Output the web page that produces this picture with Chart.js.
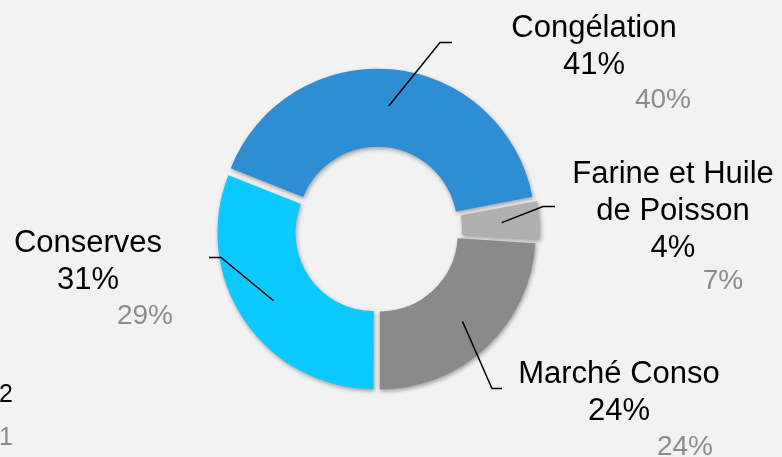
<!DOCTYPE html>
<html>
<head>
<meta charset="utf-8">
<script src="https://cdn.jsdelivr.net/npm/chart.js@4/dist/chart.umd.min.js"></script>
<style>
    html, body { margin: 0; padding: 0; background: #f2f2f2; }
    #wrap { width: 782px; height: 457px; position: relative; }
</style>
</head>
<body>
<div id="wrap"><canvas id="donutChart" width="782" height="457"></canvas></div>
<script>
// Data (clockwise from 6 o'clock)
const CATEGORIES = ['Conserves', 'Congélation', 'Farine et Huile\nde Poisson', 'Marché Conso'];
const SHARE_CURRENT = [31, 41, 4, 24];
const SHARE_PREVIOUS = [29, 40, 7, 24];
const COLORS = ['#0bc8fe', '#2e8ed4', '#b0b0b0', '#8a8a8a'];

// Label layout, relative to donut centre (text centre x, first baseline y, grey % offset, leader elbow)
const LABEL_LAYOUT = [
    { tx: -289, ty: 21, gx: 57, gy: 35, ex: -156, ey: 27, end: -12 },
    { tx: 217, ty: -194, gx: 69, gy: 34, ex: 63, ey: -188, end: 12 },
    { tx: 296, ty: -48, gx: 50, gy: 32, ex: 166, ey: -24, end: 12 },
    { tx: 242, ty: 152, gx: 66, gy: 35, ex: 115, ey: 158, end: 10 }
];

const FONT = "'Liberation Sans', Arial, sans-serif";

const shadowPlugin = {
    id: 'sliceShadow',
    beforeDatasetsDraw(chart) {
        const ctx = chart.ctx;
        ctx.save();
        ctx.shadowColor = 'rgba(0,0,0,0.35)';
        ctx.shadowBlur = 4;
        ctx.shadowOffsetX = 1;
        ctx.shadowOffsetY = 2;
    },
    afterDatasetsDraw(chart) {
        chart.ctx.restore();
    }
};

const labelPlugin = {
    id: 'sliceLabels',
    afterDraw(chart) {
        const ctx = chart.ctx;
        const arcs = chart.getDatasetMeta(0).data;
        ctx.save();
        arcs.forEach((arc, i) => {
            const cx = arc.x, cy = arc.y;
            const L = LABEL_LAYOUT[i];
            const start = arc.getCenterPoint();

            // leader line
            ctx.strokeStyle = '#000';
            ctx.lineWidth = 1.5;
            ctx.beginPath();
            ctx.moveTo(start.x, start.y);
            ctx.lineTo(cx + L.ex, cy + L.ey);
            ctx.lineTo(cx + L.ex + L.end, cy + L.ey);
            ctx.stroke();

            // category + current share
            const lines = CATEGORIES[i].split('\n').concat([SHARE_CURRENT[i] + '%']);
            ctx.textAlign = 'center';
            ctx.textBaseline = 'alphabetic';
            ctx.fillStyle = '#000';
            ctx.font = '31px ' + FONT;
            lines.forEach((t, k) => ctx.fillText(t, cx + L.tx, cy + L.ty + k * 37));

            // previous share in grey
            const lastY = cy + L.ty + (lines.length - 1) * 37;
            ctx.fillStyle = '#8c8c8c';
            ctx.font = '28px ' + FONT;
            ctx.fillText(SHARE_PREVIOUS[i] + '%', cx + L.tx + L.gx, lastY + L.gy);
        });

        // clipped legend remnants at the left edge
        ctx.textAlign = 'left';
        ctx.font = '25px ' + FONT;
        ctx.fillStyle = '#000';
        ctx.fillText('2', -1, 402);
        ctx.fillStyle = '#8c8c8c';
        ctx.fillText('1', -1, 445);
        ctx.restore();
    }
};

new Chart(document.getElementById('donutChart').getContext('2d'), {
    type: 'doughnut',
    data: {
        labels: CATEGORIES,
        datasets: [{
            data: SHARE_CURRENT,
            backgroundColor: COLORS,
            borderWidth: 0,
            offset: 16
        }]
    },
    options: {
        responsive: false,
        animation: false,
        devicePixelRatio: 1,
        rotation: 180,
        radius: 156,
        cutout: '50%',
        layout: { padding: { left: 0, right: 28, top: 4, bottom: 0 } },
        plugins: { legend: { display: false }, tooltip: { enabled: false } }
    },
    plugins: [shadowPlugin, labelPlugin]
});
</script>
</body>
</html>
